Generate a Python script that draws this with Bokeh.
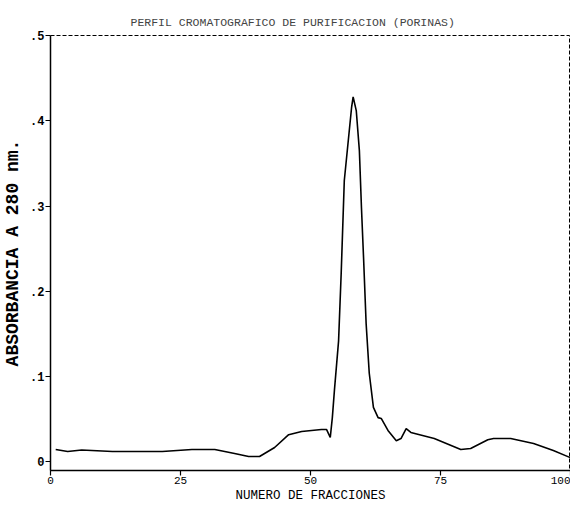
from bokeh.plotting import figure
from bokeh.embed import file_html
from bokeh.resources import INLINE
from bokeh.models import Range1d, FixedTicker

# Data
fractions = [1, 3.3, 6, 11.9, 21.5, 27.2, 31.6, 35.4, 38.1, 40.2, 43.1, 45.8, 48.3,
             52.1, 53.1, 53.8, 54.2, 54.6, 55.4, 55.9, 56.5, 57.9, 58.2, 58.8, 59.4,
             59.8, 60.2, 60.7, 61.3, 62.1, 63.0, 63.6, 64.9, 66.5, 67.4, 68.4, 69.3,
             73.8, 78.9, 80.8, 84.1, 85.2, 88.5, 92.9, 96.7, 100]
absorbance = [0.0147, 0.0123, 0.014, 0.0123, 0.0123, 0.0147, 0.0147, 0.010, 0.0064,
              0.0064, 0.017, 0.032, 0.0358, 0.038, 0.038, 0.0287, 0.052, 0.084, 0.142,
              0.221, 0.33, 0.4156, 0.428, 0.412, 0.365, 0.298, 0.240, 0.162, 0.104,
              0.064, 0.052, 0.051, 0.037, 0.025, 0.0275, 0.039, 0.0346, 0.0275, 0.0147,
              0.0158, 0.026, 0.0275, 0.0275, 0.0217, 0.0135, 0.005]

x_ticks = [0, 25, 50, 75, 100]
x_tick_labels = ["0", "25", "50", "75", "100"]
y_ticks = [0, 0.1, 0.2, 0.3, 0.4, 0.5]
y_tick_labels = ["0", ".1", ".2", ".3", ".4", ".5"]

title_text = "PERFIL CROMATOGRAFICO DE PURIFICACION (PORINAS)"
x_label = "NUMERO DE FRACCIONES"
y_label = "ABSORBANCIA A 280 nm."

FONT = "Liberation Mono"

p = figure(width=570, height=505, output_backend="svg", toolbar_location=None,
           x_range=Range1d(0, 100), y_range=Range1d(-0.01, 0.5),
           min_border_left=48, min_border_right=0, min_border_top=35,
           min_border_bottom=35)

p.title.text = title_text
p.title.text_font = FONT
p.title.text_font_size = "11.5px"
p.title.text_font_style = "normal"
p.title.align = "left"
p.title.offset = 80
p.title.standoff = 14

p.background_fill_color = "white"
p.border_fill_color = "white"
p.outline_line_color = "black"
p.outline_line_dash = "4 2"
p.outline_line_width = 1
p.grid.visible = False

p.line(fractions, absorbance, line_color="black", line_width=1.6)

for ax in (p.xaxis[0], p.yaxis[0]):
    ax.axis_line_color = "black"
    ax.axis_line_width = 1.5
    ax.major_tick_line_color = "black"
    ax.major_tick_line_width = 1.2
    ax.major_tick_in = 0
    ax.major_tick_out = 5
    ax.minor_tick_line_color = None
    ax.major_label_text_font = FONT
    ax.major_label_text_color = "black"
    ax.axis_label_text_font = FONT
    ax.axis_label_text_font_style = "normal"
    ax.axis_label_text_color = "black"

p.xaxis.ticker = FixedTicker(ticks=x_ticks)
p.xaxis.major_label_overrides = dict(zip(x_ticks, x_tick_labels))
p.xaxis.major_label_text_font_size = "11px"
p.xaxis.major_label_standoff = 1
p.xaxis.axis_label = x_label
p.xaxis.axis_label_text_font_size = "12.5px"
p.xaxis.axis_label_standoff = 2

p.yaxis.ticker = FixedTicker(ticks=y_ticks)
p.yaxis.major_label_overrides = dict(zip(y_ticks, y_tick_labels))
p.yaxis.major_label_text_font_size = "12px"
p.yaxis.major_label_text_font_style = "bold"
p.yaxis.major_label_standoff = 1
p.yaxis.axis_label = y_label
p.yaxis.axis_label_text_font_size = "18px"
p.yaxis.axis_label_text_font_style = "bold"
p.yaxis.axis_label_standoff = 4

open("out.html", "w").write(file_html(p, INLINE))
